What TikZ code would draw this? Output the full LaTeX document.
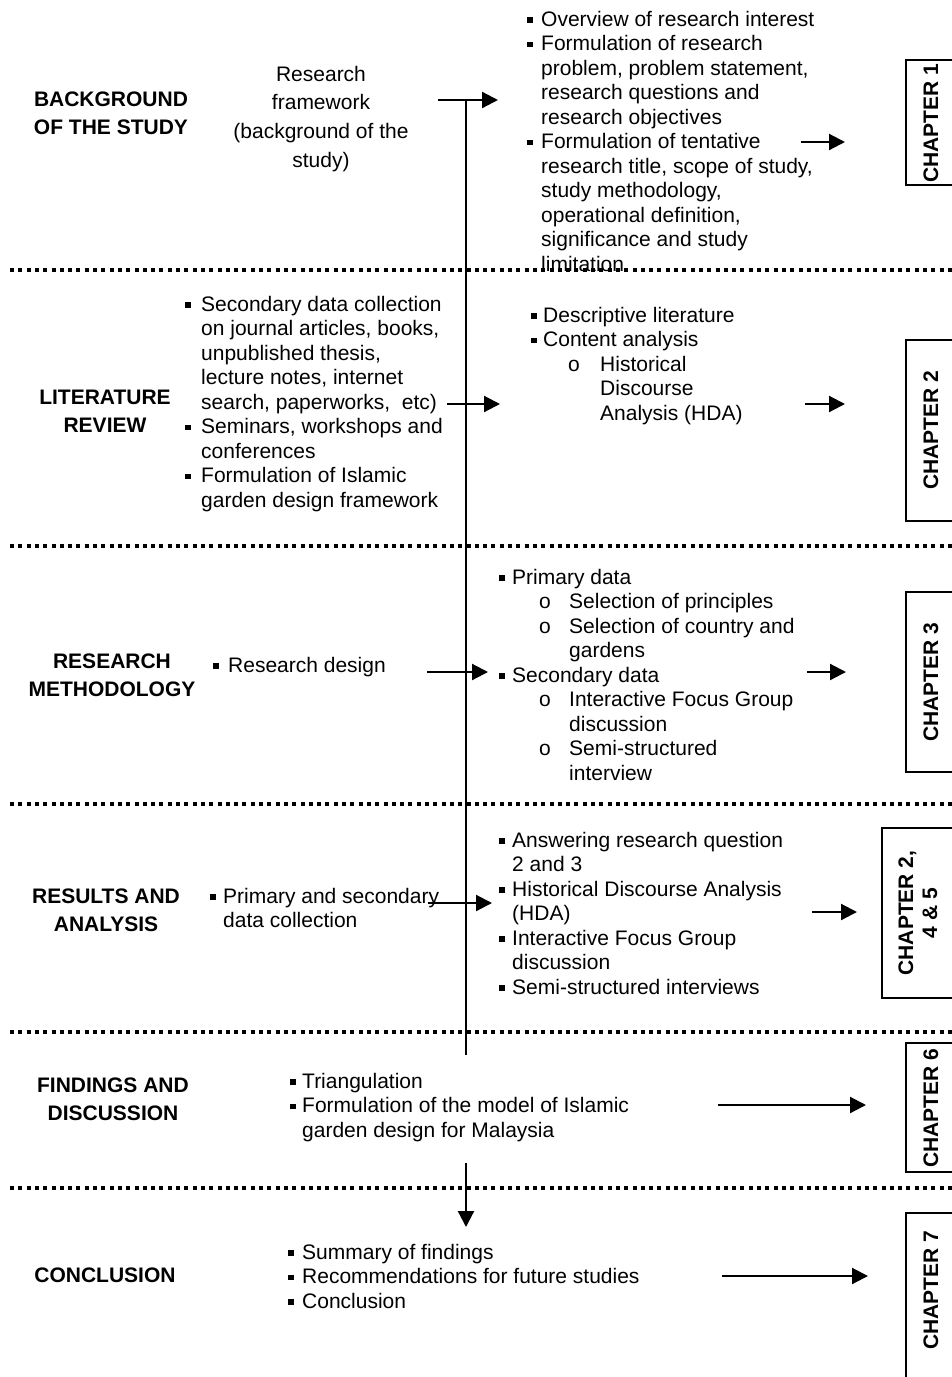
\documentclass[tikz,border=0pt]{standalone}
\usepackage{fontspec}
\setmainfont{Liberation Sans}
\usetikzlibrary{arrows.meta}
\newcommand\blt{\rule[3.5pt]{5.5pt}{5.5pt}}
\newcommand\Bi[1]{\makebox[#1][l]{\blt}}
\begin{document}
\begin{tikzpicture}[x=1pt,y=-1pt,
  arr/.style={line width=2.2pt,-{Triangle[length=16pt,width=16pt]}},
  vline/.style={line width=2.2pt},
  dots/.style={line width=4pt,dash pattern=on 4pt off 4.3pt},
  chbox/.style={draw,line width=2pt},
  txt/.style={anchor=base west,inner sep=0pt,font=\fontsize{21}{24.5}\selectfont},
  ttl/.style={anchor=base,inner sep=0pt,font=\bfseries\fontsize{21}{28.5}\selectfont},
  chtxt/.style={rotate=90,inner sep=0pt,align=center,font=\bfseries\fontsize{21}{24}\selectfont}]
\useasboundingbox (0,0) rectangle (952,1377);
\clip (0,0) rectangle (952,1377);
\fill[white] (0,0) rectangle (952,1377);

% dotted separators
\foreach \yy in {270,546,804,1032,1188}{
  \draw[dots] (10,\yy) -- (960,\yy);
}

% section titles
\node[ttl] (t1) at (111,106) {\begin{tabular}[t]{@{}c@{}}BACKGROUND\\OF THE STUDY\end{tabular}};
\node[ttl] (t2) at (105,404) {\begin{tabular}[t]{@{}c@{}}LITERATURE\\REVIEW\end{tabular}};
\node[ttl] (t3) at (112,668) {\begin{tabular}[t]{@{}c@{}}RESEARCH\\METHODOLOGY\end{tabular}};
\node[ttl] (t4) at (106,903) {\begin{tabular}[t]{@{}c@{}}RESULTS AND\\ANALYSIS\end{tabular}};
\node[ttl] (t5) at (113,1092) {\begin{tabular}[t]{@{}c@{}}FINDINGS AND\\DISCUSSION\end{tabular}};
\node[ttl] (t6) at (105,1282) {CONCLUSION};

% left column
\node[anchor=base,inner sep=0pt,font=\fontsize{21}{28.7}\selectfont] (l1) at (321,81)
  {\begin{tabular}[t]{@{}c@{}}Research\\framework\\(background of the\\study)\end{tabular}};
\node[txt] (l2) at (185,311) {\begin{tabular}[t]{@{}l@{}}
\Bi{16pt}Secondary data collection\\
\hspace{16pt}on journal articles, books,\\
\hspace{16pt}unpublished thesis,\\
\hspace{16pt}lecture notes, internet\\
\hspace{16pt}search, paperworks,\ \ etc)\\
\Bi{16pt}Seminars, workshops and\\
\hspace{16pt}conferences\\
\Bi{16pt}Formulation of Islamic\\
\hspace{16pt}garden design framework
\end{tabular}};
\node[txt] (l3) at (213,672) {\Bi{15pt}Research design};
\node[txt] (l4) at (210,903) {\begin{tabular}[t]{@{}l@{}}
\Bi{13pt}Primary and secondary\\
\hspace{13pt}data collection
\end{tabular}};
\node[txt] (l5) at (290,1088) {\begin{tabular}[t]{@{}l@{}}
\Bi{12pt}Triangulation\\
\Bi{12pt}Formulation of the model of Islamic\\
\hspace{12pt}garden design for Malaysia
\end{tabular}};
\node[txt] (l6) at (288,1259) {\begin{tabular}[t]{@{}l@{}}
\Bi{14pt}Summary of findings\\
\Bi{14pt}Recommendations for future studies\\
\Bi{14pt}Conclusion
\end{tabular}};

% right column
\node[txt] (r1) at (527,26) {\begin{tabular}[t]{@{}l@{}}
\Bi{14pt}Overview of research interest\\
\Bi{14pt}Formulation of research\\
\hspace{14pt}problem, problem statement,\\
\hspace{14pt}research questions and\\
\hspace{14pt}research objectives\\
\Bi{14pt}Formulation of tentative\\
\hspace{14pt}research title, scope of study,\\
\hspace{14pt}study methodology,\\
\hspace{14pt}operational definition,\\
\hspace{14pt}significance and study\\
\hspace{14pt}limitation
\end{tabular}};
\node[txt] (r2) at (531,322) {\begin{tabular}[t]{@{}l@{}}
\Bi{12pt}Descriptive literature\\
\Bi{12pt}Content analysis\\
\hspace{37pt}\makebox[32pt][l]{o}Historical\\
\hspace{69pt}Discourse\\
\hspace{69pt}Analysis (HDA)
\end{tabular}};
\node[txt] (r3) at (499,584) {\begin{tabular}[t]{@{}l@{}}
\Bi{13pt}Primary data\\
\hspace{40pt}\makebox[30pt][l]{o}Selection of principles\\
\hspace{40pt}\makebox[30pt][l]{o}Selection of country and\\
\hspace{70pt}gardens\\
\Bi{13pt}Secondary data\\
\hspace{40pt}\makebox[30pt][l]{o}Interactive Focus Group\\
\hspace{70pt}discussion\\
\hspace{40pt}\makebox[30pt][l]{o}Semi-structured\\
\hspace{70pt}interview
\end{tabular}};
\node[txt] (r4) at (499,847) {\begin{tabular}[t]{@{}l@{}}
\Bi{13pt}Answering research question\\
\hspace{13pt}2 and 3\\
\Bi{13pt}Historical Discourse Analysis\\
\hspace{13pt}(HDA)\\
\Bi{13pt}Interactive Focus Group\\
\hspace{13pt}discussion\\
\Bi{13pt}Semi-structured interviews
\end{tabular}};

% chapter boxes
\draw[chbox] (980,60) -- (906,60) -- (906,185) -- (980,185);
\draw[chbox] (980,340) -- (906,340) -- (906,521) -- (980,521);
\draw[chbox] (980,592) -- (906,592) -- (906,772) -- (980,772);
\draw[chbox] (980,828) -- (882,828) -- (882,998) -- (980,998);
\draw[chbox] (980,1043) -- (906,1043) -- (906,1172) -- (980,1172);
\draw[chbox] (980,1213) -- (906,1213) -- (906,1400) -- (980,1400);
\node[chtxt] (ch1) at (931,123) {CHAPTER 1};
\node[chtxt] (ch2) at (931,430) {CHAPTER 2};
\node[chtxt] (ch3) at (931,682) {CHAPTER 3};
\node[chtxt] (ch4) at (918,913) {CHAPTER 2,\\4 \& 5};
\node[chtxt] (ch6) at (931,1108) {CHAPTER 6};
\node[chtxt] (ch7) at (931,1290) {CHAPTER 7};

% connectors
\coordinate (vtop) at (466,100);
\coordinate (vbot) at (466,1055);
\coordinate (dtop) at (466,1163);
\coordinate (dend) at (466,1227);
\draw[vline] (vtop) -- (vbot);
\draw[arr] (dtop) -- (dend);

\coordinate (a1s) at (438,100);  \coordinate (a1e) at (498,100);
\coordinate (a2s) at (447,404);  \coordinate (a2e) at (500,404);
\coordinate (a3s) at (427,672);  \coordinate (a3e) at (488,672);
\coordinate (a4s) at (428,903);  \coordinate (a4e) at (492,903);
\draw[arr] (a1s) -- (a1e);
\draw[arr] (a2s) -- (a2e);
\draw[arr] (a3s) -- (a3e);
\draw[arr] (a4s) -- (a4e);

\coordinate (b1s) at (801,142);  \coordinate (b1e) at (845,142);
\coordinate (b2s) at (805,404);  \coordinate (b2e) at (845,404);
\coordinate (b3s) at (807,672);  \coordinate (b3e) at (846,672);
\coordinate (b4s) at (812,912);  \coordinate (b4e) at (857,912);
\coordinate (b5s) at (718,1105); \coordinate (b5e) at (866,1105);
\coordinate (b6s) at (722,1276); \coordinate (b6e) at (868,1276);
\draw[arr] (b1s) -- (b1e);
\draw[arr] (b2s) -- (b2e);
\draw[arr] (b3s) -- (b3e);
\draw[arr] (b4s) -- (b4e);
\draw[arr] (b5s) -- (b5e);
\draw[arr] (b6s) -- (b6e);
\end{tikzpicture}
\end{document}
